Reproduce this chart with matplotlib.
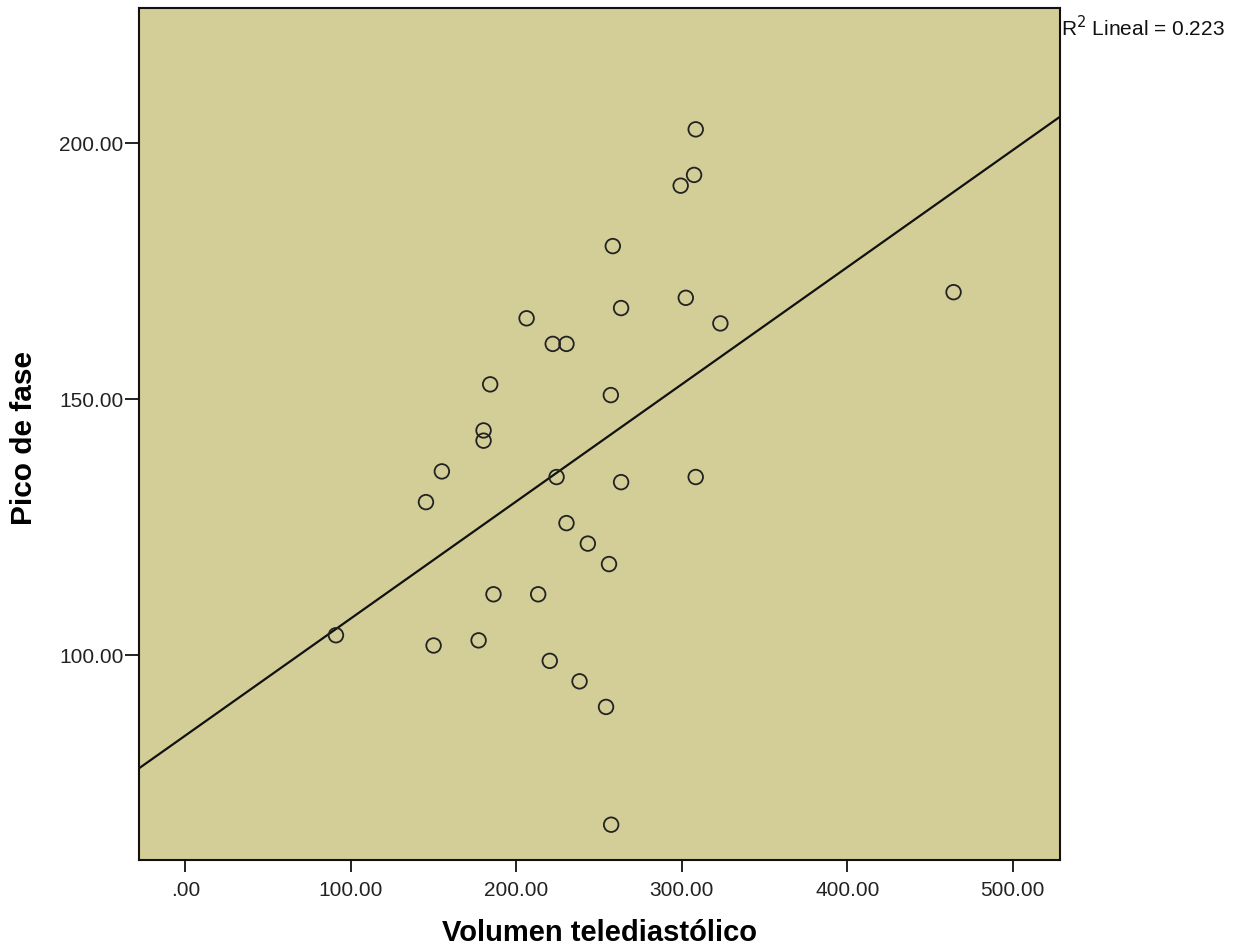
import numpy as np
import matplotlib
matplotlib.use("Agg")
import matplotlib.pyplot as plt

plt.rcParams['font.family'] = ['Liberation Sans', 'DejaVu Sans']

# Data
volumen = [308.4, 307.4, 299.3, 258.3, 302.4, 263.3, 323.3, 206.2, 222.0, 230.3,
           184.2, 257.1, 180.2, 180.2, 155.0, 145.4, 224.3, 263.3, 308.4, 230.3,
           243.2, 256.0, 186.2, 213.2, 150.0, 177.2, 220.2, 238.2, 254.2, 257.3,
           91.0, 464.2]
pico = [202.7, 193.8, 191.7, 179.9, 169.8, 167.8, 164.8, 165.8, 160.8, 160.8,
        152.9, 150.8, 143.9, 141.9, 135.9, 129.9, 134.8, 133.8, 134.8, 125.8,
        121.8, 117.8, 111.9, 111.9, 101.9, 102.9, 98.9, 94.9, 89.9, 66.9,
        103.9, 170.9]
xticks = [0, 100, 200, 300, 400, 500]
xticklabels = ['.00', '100.00', '200.00', '300.00', '400.00', '500.00']
yticks = [100, 150, 200]
yticklabels = ['100.00', '150.00', '200.00']
r2_text = 'R$^2$ Lineal = 0.223'

fig = plt.figure(figsize=(12.39, 9.52), dpi=100)
ax = fig.add_axes([0.1122, 0.0966, 0.7433, 0.895])
ax.set_facecolor('#D3CE97')

xlim = (-28, 528.5)
ylim = (60, 226.4)

x = np.array(volumen)
y = np.array(pico)
slope, intercept = np.polyfit(x, y, 1)
xl = np.array(xlim)
ax.plot(xl, intercept + slope * xl, color='#111111', lw=1.6, zorder=2)

ax.scatter(x, y, s=110, facecolors='none', edgecolors='#222222', linewidths=1.3, zorder=3)

ax.set_xlim(*xlim)
ax.set_ylim(*ylim)
ax.set_xticks(xticks)
ax.set_xticklabels(xticklabels, fontsize=15, color='#222222')
ax.set_yticks(yticks)
ax.set_yticklabels(yticklabels, fontsize=15, color='#222222')
ax.tick_params(axis='x', direction='out', length=8.5, width=1.4, color='#222222', pad=6.5)
ax.tick_params(axis='y', direction='out', length=10, width=1.4, color='#222222', pad=1)
for s in ax.spines.values():
    s.set_linewidth(1.5)
    s.set_color('#111111')

ax.set_xlabel('Volumen telediastólico', fontsize=21, fontweight='bold')
ax.set_ylabel('Pico de fase', fontsize=21.5, fontweight='bold')
ax.xaxis.set_label_coords((600 - 139) / 921, (860 - 933) / 852)
ax.xaxis.label.set_va('center')
ax.yaxis.set_label_coords((24 - 139) / 921, (860 - 438) / 852)
ax.yaxis.label.set_va('center')

fig.text(1061 / 1239, 1 - 28 / 952, r2_text, fontsize=15, ha='left', va='center', color='#111111')

fig.savefig('out.png', dpi=100, facecolor='white')
